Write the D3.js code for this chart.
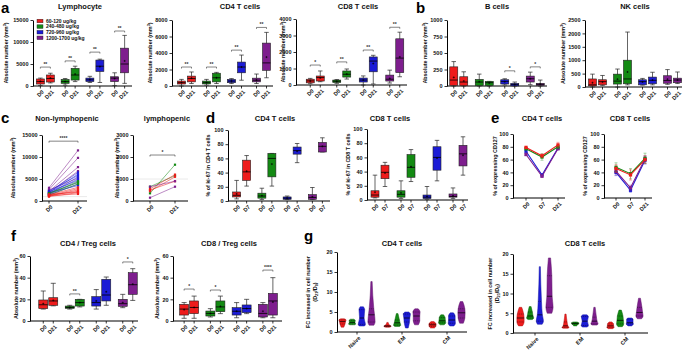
<!DOCTYPE html>
<html><head><meta charset="utf-8">
<script src="https://cdn.jsdelivr.net/npm/d3@7"></script>
<style>
body{margin:0;background:#fff}
svg{font-family:"Liberation Sans",Arial,sans-serif;font-weight:bold}
</style></head><body>
<script>
const W = 685, H = 353;
const colors = ["#ee1c1c", "#138a13", "#1c1cd6", "#7e1e8e"];
const doses = ["60-120 ug/kg", "240-480 ug/kg", "720-960 ug/kg", "1200-1700 ug/kg"];
const groups = ["g1", "g2", "g3", "g4"];
const days21 = ["D0", "D21"];
const days7 = ["D0", "D7"];
const days127 = ["D0", "D7", "D21"];
const subsets = ["Naive", "EM", "CM"];

// box stats: [min, q1, median, q3, max, mean], dose group by dose group, D0 then D21/D7
const lymphocyte = [
  [100, 450, 1000, 1600, 1800, 1050], [700, 900, 1700, 2500, 2900, 1800],
  [200, 600, 1000, 1500, 1700, 1000], [1000, 1350, 2500, 4000, 4500, 2700],
  [800, 1000, 1400, 1800, 2200, 1450], [800, 3300, 4500, 5900, 6100, 4400],
  [100, 1000, 1800, 2100, 3000, 1700], [600, 3000, 5000, 8600, 11500, 5700]];
const cd4Abs = [
  [0, 240, 400, 600, 800, 420], [300, 500, 900, 1200, 1700, 950],
  [100, 250, 400, 600, 800, 420], [300, 500, 1000, 1550, 1650, 1000],
  [300, 400, 600, 800, 900, 600], [700, 1600, 2300, 2900, 3750, 2300],
  [300, 500, 700, 950, 1450, 720], [1000, 1900, 2800, 5200, 6500, 3500]];
const cd8Abs = [
  [80, 130, 250, 350, 400, 240], [200, 240, 450, 545, 850, 430],
  [100, 150, 230, 300, 330, 220], [360, 480, 650, 850, 970, 660],
  [0, 180, 300, 420, 550, 300], [60, 800, 1450, 1700, 1800, 1300],
  [120, 240, 350, 600, 900, 400], [500, 750, 1630, 2800, 3200, 1700]];
const bCells = [
  [0, 10, 90, 290, 370, 130], [0, 5, 60, 140, 215, 75],
  [0, 5, 60, 100, 180, 65], [0, 5, 50, 70, 70, 45],
  [15, 30, 70, 95, 110, 65], [0, 2, 20, 40, 60, 22],
  [20, 60, 110, 150, 210, 110], [0, 10, 25, 40, 90, 30]];
const nkCells = [
  [0, 40, 80, 300, 480, 160], [60, 80, 200, 270, 430, 190],
  [0, 110, 220, 480, 670, 290], [80, 120, 300, 1000, 2050, 560],
  [70, 80, 200, 270, 320, 190], [80, 120, 250, 370, 550, 260],
  [100, 140, 240, 420, 650, 290], [130, 160, 260, 330, 560, 260]];
const ki67CD4 = [
  [3, 5.7, 8, 12.7, 29, 10], [21, 29, 41, 57.5, 64, 42],
  [2, 4, 7, 11, 18, 7.5], [21, 34, 60, 67, 67, 52],
  [2, 2.4, 4, 5.7, 7, 4], [54, 66, 71, 76, 81, 70],
  [2, 2.4, 5, 9, 19, 6], [69, 69, 77, 82.5, 89, 77]];
const ki67CD8 = [
  [3, 4, 7, 13, 35, 11], [19, 30, 39, 49, 53, 38],
  [2, 4, 8, 13, 27, 10], [26, 32, 46, 64, 71, 47],
  [1, 2, 4, 7, 19, 5], [27, 42, 60, 75, 84, 59],
  [2, 4, 5, 8.5, 17, 6], [35, 48, 65, 77, 89, 63]];
const cd4Treg = [
  [11, 11.4, 15, 19.4, 27.7, 16], [14, 14.5, 18.5, 21.5, 34.8, 19],
  [11, 11.7, 12.5, 13.8, 14.5, 12.5], [13, 13.8, 17, 20, 20, 17],
  [11, 13.8, 17, 22.5, 29, 18.5], [14.5, 18.5, 24, 38.5, 40.6, 27],
  [12.3, 13.5, 16, 20, 24.6, 17], [19, 24.6, 33.5, 44.6, 48.3, 34]];
const cd8Treg = [
  [2.5, 5.5, 11, 15.4, 17, 10.5], [2.5, 6.8, 12.5, 18.5, 23, 12.5],
  [3.7, 4.6, 7, 9.2, 11.4, 7], [6.8, 8.6, 13, 18.5, 23, 13.5],
  [3, 5.5, 9, 12.3, 17, 9], [6.8, 7.7, 11.5, 14.8, 20, 11.5],
  [3, 3.7, 7, 15.4, 17, 9], [3, 5.5, 18.5, 25.5, 40, 17.5]];

// significance: [dose group, value, stars]
const sigLympho = [[0, 4300, "**"], [1, 5700, "**"], [2, 7700, "**"], [3, 12500, "**"]];
const sigCD4 = [[0, 2300, "**"], [1, 2300, "**"], [2, 4350, "**"], [3, 7100, "**"]];
const sigCD8 = [[0, 1210, "*"], [1, 1400, "**"], [2, 2120, "**"], [3, 3500, "**"]];
const sigB = [[2, 230, "*"], [3, 290, "*"]];
const sigCD4Treg = [[1, 25, "**"], [3, 54.5, "*"]];
const sigCD8Treg = [[0, 29.5, "*"], [1, 28.6, "*"], [3, 47, "****"]];

// paired lymphocyte counts (D0 -> D21)
const nonLymphD0 = [3000, 2600, 2200, 1900, 2500, 2000, 1800, 2300, 1600, 1700, 2100, 1500, 1400, 1900, 1600, 1800, 1300, 1400, 1200, 1100, 1300, 1000, 1200, 1500];
const nonLymphD21 = [11500, 9800, 7700, 6800, 5200, 6500, 6100, 5800, 5500, 5000, 4700, 4300, 3800, 3500, 4500, 4200, 3900, 3100, 2800, 2500, 2200, 1900, 1600, 2000];
const nonLymphDose = [3, 3, 3, 3, 3, 2, 2, 2, 2, 2, 2, 2, 2, 2, 1, 1, 1, 0, 0, 0, 0, 0, 0, 0];
const lymphD0 = [350, 650, 550, 500, 450, 650, 150];
const lymphD21 = [1650, 1150, 1200, 900, 1100, 900, 650];
const lymphDose = [1, 1, 0, 0, 0, 3, 3];

// CD127 mean and error per dose group (D0, D7, D21)
const cd127CD4 = [[79, 66, 83], [77, 64, 80], [73, 36, 78], [68, 34, 77]];
const cd127CD4Err = [[2, 3, 4], [2, 5, 3], [3, 2, 2], [2, 2, 2]];
const cd127CD8 = [[46, 36, 60], [48, 38, 62], [40, 12, 59], [42, 16, 61]];
const cd127CD8Err = [[6, 8, 6], [7, 8, 8], [5, 3, 6], [6, 4, 5]];

// violin stats [min, q1, median, q3, max], subset by subset, dose groups within
const fcCD4 = [
  [1.2, 2.0, 2.6, 3.0, 3.3], [1.8, 2.0, 2.4, 2.9, 3.2], [1.5, 1.9, 3.5, 5.6, 6.3], [1.7, 2.5, 4.3, 5.8, 12.6],
  [1.2, 1.35, 1.5, 1.6, 2.4], [1.4, 1.7, 2.3, 3.0, 4.6], [1.0, 2.5, 3.5, 4.5, 5.0], [1.8, 2.8, 4.0, 5.0, 5.8],
  [1.0, 1.4, 1.8, 2.1, 2.6], [1.8, 2.3, 2.8, 3.6, 4.3], [1.5, 2.2, 3.0, 4.0, 4.8], [2.2, 3.5, 4.8, 5.8, 7.6]];
const fcCD8 = [
  [1.8, 2.8, 3.8, 4.8, 6.5], [3.4, 3.8, 4.3, 5.3, 6.7], [2.2, 3.0, 4.6, 8.0, 16.8], [5.0, 6.5, 9.3, 14.5, 19],
  [1.2, 1.4, 1.8, 2.8, 4.8], [1.8, 2.2, 2.4, 2.6, 2.8], [1.5, 1.9, 3.0, 4.2, 4.6], [2.0, 2.3, 3.0, 4.0, 6.5],
  [1.1, 1.4, 1.8, 2.3, 2.8], [1.6, 2.3, 3.2, 4.3, 5.8], [1.8, 2.3, 2.6, 3.5, 3.8], [3.6, 4.3, 5.2, 6.5, 8.8]];

const svg = d3.select("body").append("svg").attr("width", W).attr("height", H);

function yAxis(y, x, ticks) {
  const g = svg.append("g")
    .attr("transform", `translate(${x},0)`)
    .call(d3.axisLeft(y).tickValues(ticks).tickSize(2.5).tickSizeOuter(0).tickPadding(2).tickFormat(d3.format("d")));
  g.attr("font-size", 5.5).attr("font-family", "Liberation Sans, Arial, sans-serif").attr("font-weight", "bold");
  g.select(".domain").attr("stroke", "#000").attr("stroke-width", 1);
  g.selectAll(".tick line").attr("stroke", "#000").attr("stroke-width", 0.8);
  g.selectAll(".tick text").attr("fill", "#111");
}

function xAxis(x0, x1, y0, ticks) {
  svg.append("line").attr("x1", x0).attr("x2", x1).attr("y1", y0).attr("y2", y0)
    .attr("stroke", "#000").attr("stroke-width", 1);
  const t = svg.append("g").selectAll("g").data(ticks).join("g");
  t.append("line").attr("x1", d => d.x).attr("x2", d => d.x).attr("y1", y0).attr("y2", y0 + 2.5)
    .attr("stroke", "#000").attr("stroke-width", 0.8);
  t.append("text")
    .attr("transform", d => `translate(${d.x + 2.5},${y0 + 5}) rotate(-45)`)
    .attr("text-anchor", "end").attr("dy", "0.35em")
    .attr("font-size", 5.5).attr("fill", "#111")
    .text(d => d.label);
}

function title(x, y, text) {
  svg.append("text").attr("x", x).attr("y", y).attr("text-anchor", "middle")
    .attr("font-size", 7.5).attr("fill", "#111").text(text);
}

function yLabel(x, y, sup) {
  const t = svg.append("text").attr("transform", `translate(${x},${y}) rotate(-90)`)
    .attr("text-anchor", "middle").attr("dy", "0.35em").attr("font-size", 5.4).attr("fill", "#111");
  if (sup) {
    t.append("tspan").text("Absolute number (mm");
    t.append("tspan").attr("font-size", 3.8).attr("dy", -2).text("3");
    t.append("tspan").attr("dy", 2).text(")");
  } else {
    t.text(y.label);
  }
  return t;
}

function textLabel(x, y, text) {
  svg.append("text").attr("transform", `translate(${x},${y}) rotate(-90)`)
    .attr("text-anchor", "middle").attr("dy", "0.35em").attr("font-size", 5.4).attr("fill", "#111").text(text);
}

function boxPanel(c) {
  const y = d3.scaleLinear().domain([0, c.max]).range([c.y0, c.y1]);
  const gx = d3.scaleBand().domain(groups).range(c.range);
  const dx = d3.scalePoint().domain(c.days).range([-5, 5]);
  const cols = [];
  groups.forEach((g, gi) => c.days.forEach((d, di) => cols.push({
    gi, label: d, x: gx(g) + gx.bandwidth() / 2 + dx(d), s: c.stats[gi * c.days.length + di]
  })));
  yAxis(y, c.x0, d3.range(0, c.max + 1, c.step));
  xAxis(c.x0, c.x1, c.y0, cols);
  const bw = c.bw || 8;
  const g = svg.append("g").selectAll("g").data(cols).join("g");
  g.append("line").attr("x1", d => d.x).attr("x2", d => d.x)
    .attr("y1", d => y(d.s[0])).attr("y2", d => y(d.s[4]))
    .attr("stroke", "#222").attr("stroke-width", 0.7);
  [0, 4].forEach(k => g.append("line")
    .attr("x1", d => d.x - bw * 0.28).attr("x2", d => d.x + bw * 0.28)
    .attr("y1", d => y(d.s[k])).attr("y2", d => y(d.s[k]))
    .attr("stroke", "#222").attr("stroke-width", 0.7));
  g.append("rect").attr("x", d => d.x - bw / 2).attr("width", bw)
    .attr("y", d => y(d.s[3])).attr("height", d => Math.max(0.8, y(d.s[1]) - y(d.s[3])))
    .attr("fill", d => colors[d.gi]).attr("stroke", "#222").attr("stroke-width", 0.6);
  g.append("line").attr("x1", d => d.x - bw / 2).attr("x2", d => d.x + bw / 2)
    .attr("y1", d => y(d.s[2])).attr("y2", d => y(d.s[2]))
    .attr("stroke", "#000").attr("stroke-width", 0.8);
  g.append("path").attr("d", d => `M${d.x - 1},${y(d.s[5])}h2M${d.x},${y(d.s[5]) - 1}v2`)
    .attr("stroke", "#000").attr("stroke-width", 0.6);
  (c.sig || []).forEach(([gi, v, lab]) => {
    const xa = gx(groups[gi]) + gx.bandwidth() / 2 + dx(c.days[0]);
    const xb = gx(groups[gi]) + gx.bandwidth() / 2 + dx(c.days[1]);
    const yy = y(v);
    svg.append("path").attr("d", `M${xa},${yy + 1.5}V${yy}H${xb}V${yy + 1.5}`)
      .attr("fill", "none").attr("stroke", "#333").attr("stroke-width", 0.6);
    svg.append("text").attr("x", (xa + xb) / 2).attr("y", yy - 1).attr("text-anchor", "middle")
      .attr("font-size", 5).attr("fill", "#333").text(lab);
  });
  title(c.tx, c.ty, c.title);
  if (c.ylab) textLabel(c.lx, (c.y0 + c.y1) / 2, c.ylab);
  else yLabel(c.lx, (c.y0 + c.y1) / 2, true);
}

function pairPanel(c) {
  const y = d3.scaleLinear().domain([0, c.max]).range([c.y0, c.y1]);
  const x = d3.scalePoint().domain(days21).range([c.xa, c.xb]);
  svg.append("line").attr("x1", c.x0).attr("x2", c.x1).attr("y1", y(1000)).attr("y2", y(1000))
    .attr("stroke", "#e4e4e4").attr("stroke-width", 0.8);
  yAxis(y, c.x0, d3.range(0, c.max + 1, c.step));
  xAxis(c.x0, c.x1, c.y0, days21.map(d => ({ x: x(d), label: d })));
  const rows = c.d0.map((v, i) => ({ a: v, b: c.d21[i], gi: c.dose[i] }));
  const g = svg.append("g").selectAll("g").data(rows).join("g");
  g.append("line").attr("x1", x("D0")).attr("x2", x("D21"))
    .attr("y1", d => y(d.a)).attr("y2", d => y(d.b))
    .attr("stroke", d => colors[d.gi]).attr("stroke-width", 0.7).attr("stroke-opacity", 0.75);
  ["a", "b"].forEach((k, ki) => g.append("rect")
    .attr("x", x(days21[ki]) - 1.1).attr("y", d => y(d[k]) - 1.1).attr("width", 2.2).attr("height", 2.2)
    .attr("fill", d => colors[d.gi]));
  const yy = y(c.sig[0]);
  svg.append("path").attr("d", `M${x("D0")},${yy + 1.5}V${yy}H${x("D21")}V${yy + 1.5}`)
    .attr("fill", "none").attr("stroke", "#333").attr("stroke-width", 0.6);
  svg.append("text").attr("x", (x("D0") + x("D21")) / 2).attr("y", yy - 1).attr("text-anchor", "middle")
    .attr("font-size", 5).attr("fill", "#333").text(c.sig[1]);
  title(c.tx, c.ty, c.title);
  yLabel(c.lx, (c.y0 + c.y1) / 2, true);
}

function linePanel(c) {
  const y = d3.scaleLinear().domain([0, 100]).range([c.y0, c.y1]);
  const x = d3.scalePoint().domain(days127).range([c.xa, c.xb]);
  yAxis(y, c.x0, d3.range(0, 101, 20));
  xAxis(c.x0, c.x1, c.y0, days127.map(d => ({ x: x(d), label: d })));
  const order = [2, 3, 1, 0];
  order.forEach(gi => {
    const pts = days127.map((d, i) => ({ x: x(d), v: c.vals[gi][i], e: c.err[gi][i] }));
    const g = svg.append("g");
    g.append("path").attr("d", d3.line().x(p => p.x).y(p => y(p.v))(pts))
      .attr("fill", "none").attr("stroke", colors[gi]).attr("stroke-width", 1.1);
    g.selectAll(".eb").data(pts).join("path")
      .attr("d", p => `M${p.x},${y(p.v - p.e)}V${y(p.v + p.e)}M${p.x - 1.5},${y(p.v - p.e)}h3M${p.x - 1.5},${y(p.v + p.e)}h3`)
      .attr("stroke", colors[gi]).attr("stroke-width", 0.5).attr("opacity", 0.7);
    g.selectAll(".mk").data(pts).join("rect")
      .attr("x", p => p.x - 1.6).attr("y", p => y(p.v) - 1.6).attr("width", 3.2).attr("height", 3.2)
      .attr("fill", colors[gi]);
  });
  title(c.tx, c.ty, c.title);
  textLabel(c.lx, (c.y0 + c.y1) / 2, "% of expressing CD127");
}

function violinPanel(c) {
  const y = d3.scaleLinear().domain([0, 20]).range([c.y0, c.y1]);
  const gx = d3.scaleBand().domain(subsets).range(c.range);
  const dx = d3.scalePoint().domain(groups).range([-14.5, 14.5]);
  yAxis(y, c.x0, d3.range(0, 21, 5));
  xAxis(c.x0, c.x1, c.y0, subsets.map(s => ({ x: gx(s) + gx.bandwidth() / 2, label: s })));
  const hw = 3.6;
  subsets.forEach((s, si) => groups.forEach((g, gi) => {
    const st = c.stats[si * 4 + gi];
    const cx = gx(s) + gx.bandwidth() / 2 + dx(g);
    const [mn, q1, md, q3, mx] = st;
    const seg = [q1 - mn, md - q1, q3 - md, mx - q3].map(v => Math.sqrt(0.25 / Math.max(v, 0.12)));
    const pts = [[mn, seg[0] * 0.55], [q1, (seg[0] + seg[1]) / 2], [md, (seg[1] + seg[2]) / 2],
      [q3, (seg[2] + seg[3]) / 2], [mx, seg[3] * 0.45]];
    const m = d3.max(pts, p => p[1]);
    const area = d3.area().y(p => y(p[0]))
      .x0(p => cx - p[1] / m * hw).x1(p => cx + p[1] / m * hw).curve(d3.curveMonotoneY);
    svg.append("path").attr("d", area(pts)).attr("fill", colors[gi])
      .attr("stroke", d3.color(colors[gi]).darker(0.8)).attr("stroke-width", 0.5);
    [1, 2, 3].forEach(k => svg.append("line")
      .attr("x1", cx - pts[k][1] / m * hw).attr("x2", cx + pts[k][1] / m * hw)
      .attr("y1", y(pts[k][0])).attr("y2", y(pts[k][0]))
      .attr("stroke", "#000").attr("stroke-width", k === 2 ? 0.7 : 0.4)
      .attr("stroke-dasharray", k === 2 ? null : "1,0.8"));
  }));
  title(c.tx, c.ty, c.title);
  const ym = (c.y0 + c.y1) / 2;
  textLabel(c.lx, ym, "FC increased in cell number");
  const t = svg.append("text").attr("transform", `translate(${c.lx + 7},${ym}) rotate(-90)`)
    .attr("text-anchor", "middle").attr("dy", "0.35em").attr("font-size", 5.4).attr("fill", "#111");
  t.append("tspan").text("(D");
  t.append("tspan").attr("font-size", 3.8).attr("dy", 1.5).text("21");
  t.append("tspan").attr("dy", -1.5).text("/D");
  t.append("tspan").attr("font-size", 3.8).attr("dy", 1.5).text("0");
  t.append("tspan").attr("dy", -1.5).text(")");
}

// panel letters
[["a", 1, 13], ["b", 416, 13], ["c", 1, 123], ["d", 206, 123], ["e", 491, 123], ["f", 11, 241], ["g", 304, 241]]
  .forEach(([l, x, y]) => svg.append("text").attr("x", x).attr("y", y).attr("font-size", 15).attr("fill", "#000").text(l));

// a
boxPanel({ stats: lymphocyte, days: days21, x0: 33, x1: 132, range: [33, 132], y0: 86, y1: 20, max: 15000, step: 5000,
  title: "Lymphocyte", tx: 80, ty: 9, lx: 6, sig: sigLympho });
boxPanel({ stats: cd4Abs, days: days21, x0: 172, x1: 273, range: [174, 274], y0: 86, y1: 20, max: 8000, step: 2000,
  title: "CD4 T cells", tx: 240, ty: 9, lx: 150, sig: sigCD4 });
boxPanel({ stats: cd8Abs, days: days21, x0: 296, x1: 407, range: [302, 408], y0: 85, y1: 19, max: 4000, step: 1000,
  title: "CD8 T cells", tx: 358, ty: 9, lx: 283, sig: sigCD8 });

// legend
const lg = svg.append("g").selectAll("g").data(doses).join("g")
  .attr("transform", (d, i) => `translate(37,${21 + i * 5.6})`);
lg.append("rect").attr("x", 0).attr("y", -1.8).attr("width", 6).attr("height", 3.6)
  .attr("fill", (d, i) => colors[i]).attr("stroke", "#222").attr("stroke-width", 0.4);
lg.append("text").attr("x", 9).attr("dy", "0.35em").attr("font-size", 5).attr("fill", "#111").text(d => d);

// b
boxPanel({ stats: bCells, days: days21, x0: 447, x1: 547, range: [446, 548], y0: 86, y1: 20, max: 1000, step: 250,
  title: "B cells", tx: 497, ty: 9, lx: 425, sig: sigB });
boxPanel({ stats: nkCells, days: days21, x0: 585, x1: 682, range: [585, 685], y0: 87, y1: 20, max: 2500, step: 500,
  title: "NK cells", tx: 635, ty: 9, lx: 563 });

// c
pairPanel({ d0: nonLymphD0, d21: nonLymphD21, dose: nonLymphDose, x0: 42, x1: 87, xa: 49, xb: 78,
  y0: 201, y1: 135, max: 15000, step: 5000, sig: [13600, "****"], title: "Non-lymphopenic", tx: 67, ty: 121, lx: 13 });
pairPanel({ d0: lymphD0, d21: lymphD21, dose: lymphDose, x0: 133, x1: 188, xa: 150, xb: 175,
  y0: 201, y1: 135, max: 3000, step: 1000, sig: [2090, "*"], title: "lymphopenic", tx: 167, ty: 121, lx: 117 });

// d
boxPanel({ stats: ki67CD4, days: days7, x0: 228, x1: 330, range: [229, 330], y0: 201, y1: 130, max: 100, step: 20,
  title: "CD4 T cells", tx: 275, ty: 121, lx: 208, ylab: "% of ki-67 in CD4 T cells" });
boxPanel({ stats: ki67CD8, days: days7, x0: 367, x1: 468, range: [367, 471], y0: 200, y1: 129, max: 100, step: 20,
  title: "CD8 T cells", tx: 390, ty: 121, lx: 348, ylab: "% of ki-67 in CD8 T cells" });

// e
linePanel({ vals: cd127CD4, err: cd127CD4Err, x0: 513, x1: 565, xa: 526, xb: 558, y0: 198, y1: 134,
  title: "CD4 T cells", tx: 542, ty: 121, lx: 495 });
linePanel({ vals: cd127CD8, err: cd127CD8Err, x0: 604, x1: 652, xa: 616, xb: 645, y0: 198, y1: 134,
  title: "CD8 T cells", tx: 630, ty: 121, lx: 585 });

// f
boxPanel({ stats: cd4Treg, days: days21, x0: 30, x1: 138, range: [35, 141], y0: 321, y1: 256, max: 60, step: 20, bw: 9,
  title: "CD4 / Treg cells", tx: 88, ty: 246, lx: 16, sig: sigCD4Treg });
boxPanel({ stats: cd8Treg, days: days21, x0: 173, x1: 282, range: [176, 281], y0: 321, y1: 256, max: 60, step: 20, bw: 9,
  title: "CD8 / Treg cells", tx: 229, ty: 246, lx: 157, sig: sigCD8Treg });

// g
violinPanel({ stats: fcCD4, x0: 337, x1: 467, range: [334.5, 469.5], y0: 332, y1: 252,
  title: "CD4 T cells", tx: 402, ty: 246, lx: 308 });
violinPanel({ stats: fcCD8, x0: 513, x1: 648, range: [512.5, 647.5], y0: 333, y1: 254,
  title: "CD8 T cells", tx: 585, ty: 246, lx: 490 });
</script>
</body></html>
